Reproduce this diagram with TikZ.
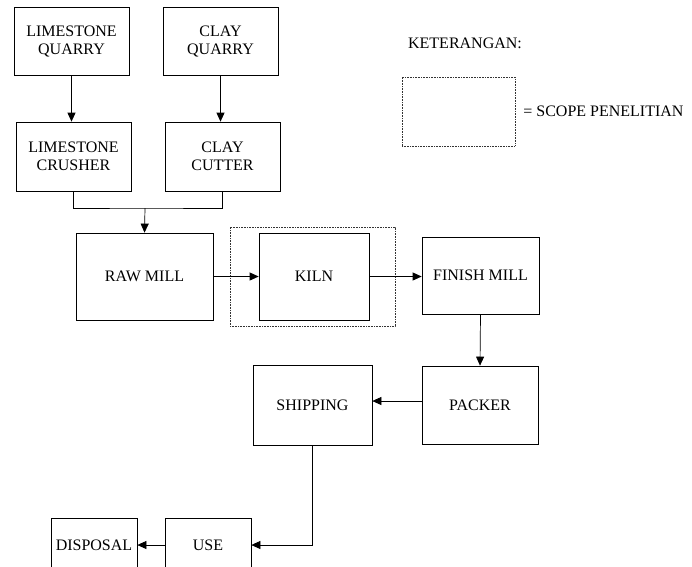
\documentclass[tikz,border=0pt]{standalone}
\usepackage{fontspec}
\setmainfont{Liberation Serif}
\usetikzlibrary{arrows.meta}
\tikzset{
	blok/.style={draw, line width=.7pt, align=center, inner sep=1pt, font=\fontsize{16}{18}\selectfont},
	batas/.style={draw=black!80, line width=.8pt, dash pattern=on .8pt off .8pt},
	panah/.style={-{Triangle[length=9pt,width=8pt]}, line width=.7pt},
	garis/.style={line width=.7pt},
}
\begin{document}
\begin{tikzpicture}[x=1pt, y=-1pt]
	\clip (0,0) rectangle (692,566);
	%bahan baku
	\node[blok, minimum width=115, minimum height=68] (lq)   at (71.5,41)    {LIMESTONE\\QUARRY};
	\node[blok, minimum width=115, minimum height=68] (cq)   at (220.5,41)   {CLAY\\QUARRY};
	\node[blok, minimum width=115, minimum height=69] (lc)   at (73.5,156.5) {LIMESTONE\\CRUSHER};
	\node[blok, minimum width=115, minimum height=69] (cc)   at (222.5,156.5){CLAY\\CUTTER};
	%proses
	\node[batas, minimum width=165, minimum height=99] (scope) at (312.5,276.5) {};
	\node[blok, minimum width=137, minimum height=87] (rm)   at (144.5,276.5){RAW MILL};
	\node[blok, minimum width=110, minimum height=87] (kiln) at (314,276.5)  {KILN};
	\node[blok, minimum width=117, minimum height=77] (fm)   at (480.5,275.5){FINISH MILL};
	\node[blok, minimum width=116, minimum height=78] (pk)   at (480,405)    {PACKER};
	\node[blok, minimum width=119, minimum height=80] (sh)   at (312.5,405)  {SHIPPING};
	\node[blok, minimum width=86,  minimum height=54] (use)  at (208,545)    {USE};
	\node[blok, minimum width=86,  minimum height=54] (disp) at (94,545)     {DISPOSAL};
	%keterangan
	\node[blok, draw=none] (ket) at (465,43) {KETERANGAN:};
	\node[batas, minimum width=113, minimum height=69] (legbox) at (458.5,111.5) {};
	\node[blok, draw=none, anchor=west] (legtxt) at (522,111) {= SCOPE PENELITIAN};
	%alur
	\coordinate (join) at (145,208);
	\draw[panah] (lq.south) -- (lq.south |- lc.north);
	\draw[panah] (cq.south) -- (cq.south |- cc.north);
	\draw[garis] (lc.south) |- (join) -| (cc.south);
	\draw[panah] (join) -- (rm.north);
	\draw[panah] (rm.east) -- (kiln.west);
	\draw[panah] (kiln.east) -- (kiln.east -| fm.west);
	\draw[panah] (fm.south) -- (pk.north);
	\draw[panah] ([yshift=4pt]pk.west) -- ([yshift=4pt]pk.west -| sh.east);
	\draw[panah] (sh.south) |- (use.east);
	\draw[panah] (use.west) -- (disp.east);
\end{tikzpicture}
\end{document}
